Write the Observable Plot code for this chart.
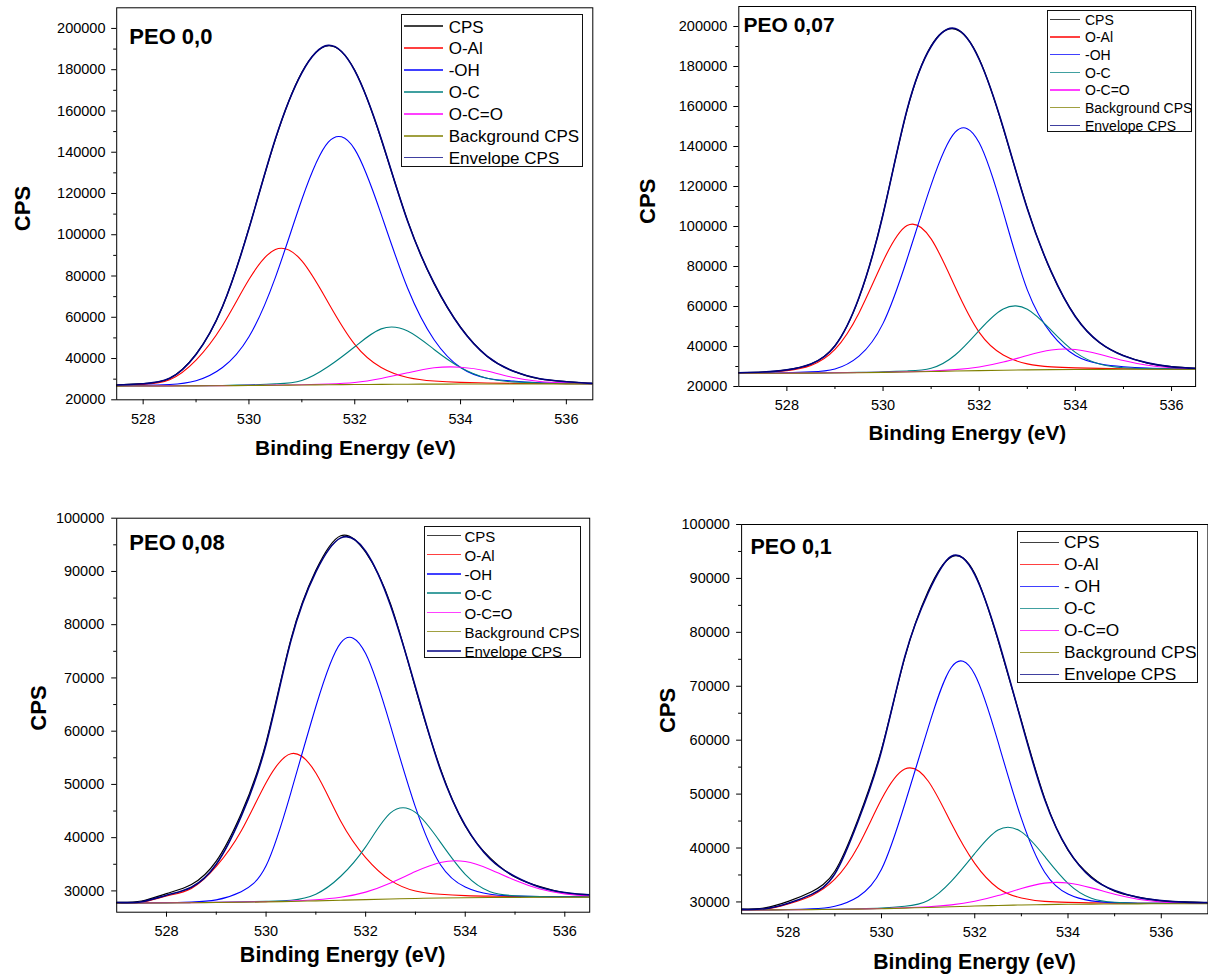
<!DOCTYPE html>
<html>
<head>
<meta charset="utf-8">
<script src="https://cdn.jsdelivr.net/npm/d3@7"></script>
<script src="https://cdn.jsdelivr.net/npm/@observablehq/plot@0.6"></script>
<style>
  html, body { margin: 0; padding: 0; background: #fff; }
  #root { position: relative; width: 1208px; height: 976px; overflow: hidden; background: #fff;
          font-family: "Liberation Sans", Arial, Helvetica, sans-serif; }
  .panel { position: absolute; }
  .legend { position: absolute; border: 1px solid #111; background: #fff; box-sizing: border-box; }
  .legend .ln { position: absolute; height: 1.5px; }
  .legend .tx { position: absolute; line-height: 1; white-space: nowrap; color: #000; transform: translateY(-50%); }
</style>
</head>
<body>
<div id="root"></div>
<script>
// ---------------- DATA ----------------
const energyEV = [527.0, 527.5, 528.0, 528.5, 529.0, 529.5, 530.0, 530.5, 531.0, 531.5, 532.0,
                  532.5, 533.0, 533.5, 534.0, 534.5, 535.0, 535.5, 536.0, 536.5, 537.0];

const seriesLabels   = ["CPS", "O-Al", "-OH", "O-C", "O-C=O", "Background CPS", "Envelope CPS"];
const seriesLabelsP4 = ["CPS", "O-Al", "- OH", "O-C", "O-C=O", "Background CPS", "Envelope CPS"];
const seriesColors   = ["#000000", "#ff0000", "#0000ff", "#008080", "#ff00ff", "#808000", "#000080"];
const panelTitles    = ["PEO 0,0", "PEO 0,07", "PEO 0,08", "PEO 0,1"];
const axisLabelX = "Binding Energy (eV)";
const axisLabelY = "CPS";

const xMajorTicks = [528, 530, 532, 534, 536];
const xMinorTicks = [529, 531, 533, 535];
const yMajorTicksHigh = [20000, 40000, 60000, 80000, 100000, 120000, 140000, 160000, 180000, 200000];
const yMinorTicksHigh = [30000, 50000, 70000, 90000, 110000, 130000, 150000, 170000, 190000];
const yMajorTicksLow = [30000, 40000, 50000, 60000, 70000, 80000, 90000, 100000];
const yMinorTicksLow = [35000, 45000, 55000, 65000, 75000, 85000, 95000];

// Panel 1 : PEO 0,0
const p1Cps = [26950,27150,27850,30350,42100,65100,103200,146300,178700,191600,179700,146300,106700,76300,55200,41100,33900,30100,28800,28000,27900];
const p1OAl = [26720,26950,27480,29720,39270,56040,78280,92890,87360,67080,46890,35680,30850,29100,28440,28170,27940,27880,27840,27770,27760];
const p1OH  = [26750,26900,26980,27420,29270,35640,50530,79340,117060,144880,141390,109880,74050,49100,35640,30470,29090,28300,28060,27800,27770];
const p1OC  = [26640,26700,26740,26790,26860,26960,27230,27740,29360,36110,45690,54380,53350,44400,35640,30470,28690,28150,27860,27760,27750];
const p1OCO = [26620,26673,26705,26751,26808,26886,26990,27130,27310,27670,28390,30350,33070,35500,35810,33970,30790,28900,28200,27850,27790];
const p1Bg  = [26600,26650,26680,26720,26770,26840,26930,27040,27160,27280,27390,27480,27550,27600,27640,27670,27690,27700,27710,27720,27720];
const p1Env = [26900,27200,27800,30400,42000,65200,103000,146500,178500,191800,179500,146500,106500,76500,55000,41200,33800,30200,28750,27950,27850];

// Panel 2 : PEO 0,07
const p2Cps = [26950,27200,28350,31200,40500,64300,106300,158200,190300,198700,183800,149100,109200,77100,55100,42000,35500,31700,29900,29050,28950];
const p2OAl = [26750,27020,27950,30550,38550,56800,82630,100460,93800,69700,47060,35750,31300,29820,29300,29050,28910,28830,28790,28760,28750];
const p2OH  = [26700,26770,26900,27300,28780,35200,51560,83770,120800,147140,141860,107150,68300,46420,35500,31350,29890,29260,28980,28840,28800];
const p2OC  = [26660,26690,26730,26800,26900,27060,27310,27770,29100,35740,48060,58750,58660,48060,37060,31250,29390,28960,28830,28770,28750];
const p2OCO = [26630,26655,26690,26750,26840,26975,27160,27395,27750,28420,29760,32220,35520,38240,38510,36140,33000,30620,29380,28930,28780];
const p2Bg  = [26600,26620,26650,26700,26780,26900,27060,27270,27500,27740,27960,28150,28300,28420,28500,28550,28590,28610,28630,28640,28650];
const p2Env = [26900,27250,28300,31300,40300,64500,106000,158500,190000,199000,183500,149400,108900,77300,54900,42100,35400,31800,29800,29100,28900];

// Panel 3 : PEO 0,08
const p3Cps = [27850,28100,29500,31200,35600,44500,57900,77300,90200,96700,93600,83900,68100,53000,42200,36200,32600,30800,29650,29300,29050];
const p3OAl = [27760,27870,29040,30470,34610,41260,50330,55770,52150,43100,36270,31980,29980,29360,29120,29010,28960,28930,28910,28900,28900];
const p3OH  = [27730,27760,27790,27920,28310,29860,34730,48520,64630,76600,74570,60980,45730,34960,30720,29360,29040,28930,28900,28890,28890];
const p3OC  = [27720,27745,27770,27810,27860,27930,28050,28250,29380,32750,38270,44640,44740,39160,33120,29860,29090,28930,28890,28880,28880];
const p3OCO = [27720,27745,27770,27805,27850,27905,27990,28100,28340,28800,29770,31480,33630,35340,35520,34040,32000,30360,29450,29070,28940];
const p3Bg  = [27700,27720,27740,27770,27810,27860,27930,28020,28130,28250,28370,28480,28580,28660,28720,28760,28790,28810,28820,28830,28840];
const p3Env = [27830,27960,29200,30700,35000,44000,57500,77000,89900,96300,93800,83600,68300,52800,42300,36000,32700,30700,29700,29250,29090];

// Panel 4 : PEO 0,1
const p4Cps = [28650,28900,30100,31900,35700,45400,58300,75300,87600,94000,90900,78500,63600,49200,39600,34700,32000,30900,30200,30000,29850];
const p4OAl = [28560,28670,29640,31170,34210,40340,49030,54650,52430,44530,37140,32550,30740,30110,29910,29820,29780,29760,29740,29730,29730];
const p4OH  = [28530,28560,28600,28720,29210,30970,36050,48160,62270,73520,72190,59670,45490,35510,31460,30200,29880,29770,29740,29730,29730];
const p4OC  = [28520,28545,28570,28605,28655,28730,28850,29190,30280,33860,38980,43360,43000,38440,33460,30700,29930,29770,29730,29720,29720];
const p4OCO = [28510,28532,28555,28588,28632,28698,28785,28910,29110,29460,30120,31190,32490,33490,33510,32610,31420,30510,30000,29800,29740];
const p4Bg  = [28500,28520,28540,28570,28610,28670,28750,28860,28980,29110,29240,29350,29440,29510,29560,29600,29630,29650,29660,29670,29680];
const p4Env = [28620,28750,29750,31400,35200,45000,58000,75500,87300,94100,90700,78700,63400,49000,39700,34500,32100,30850,30250,29970,29880];

// ---------------- LAYOUT ----------------
const FONT = '"Liberation Sans", Arial, Helvetica, sans-serif';

const panels = [
  { title: panelTitles[0], labels: seriesLabels, series: [p1Cps, p1OAl, p1OH, p1OC, p1OCO, p1Bg, p1Env],
    xDomain: [527.5, 536.5], yDomain: [20000, 210000], yMajor: yMajorTicksHigh, yMinor: yMinorTicksHigh,
    left: 0, top: 0, width: 600, height: 470, mL: 116.2, mR: 7.7, mT: 7.3, mB: 70.7,
    xPad: 8.8, yPad: 6.2,
    titleDx: 12.6, titleDy: 36, titleSize: 22,
    xlabDx: 0.6, xlabDy: 48.7, xlabSize: 21, ylabDx: -94.2, ylabDy: 4.7, ylabSize: 22,
    legend: { left: 400.7, top: 14, width: 182, height: 152.7, row0: 11, step: 21.95, l0: 2.3, l1: 41.3, tx: 47, fs: 17 } },
  { title: panelTitles[1], labels: seriesLabels, series: [p2Cps, p2OAl, p2OH, p2OC, p2OCO, p2Bg, p2Env],
    xDomain: [527, 536.5], yDomain: [20000, 210000], yMajor: yMajorTicksHigh, yMinor: yMinorTicksHigh,
    left: 600, top: 0, width: 608, height: 470, mL: 138.3, mR: 12.9, mT: 6, mB: 84,
    xPad: 8.1, yPad: 6.6,
    titleDx: 4.7, titleDy: 25.7, titleSize: 21,
    xlabDx: 0.2, xlabDy: 47.3, xlabSize: 20.7, ylabDx: -90.6, ylabDy: 4.8, ylabSize: 22,
    legend: { left: 1047, top: 10, width: 144.6, height: 122.3, row0: 8.3, step: 17.67, l0: 2, l1: 32, tx: 37, fs: 14 } },
  { title: panelTitles[2], labels: seriesLabels, series: [p3Cps, p3OAl, p3OH, p3OC, p3OCO, p3Bg, p3Env],
    xDomain: [527, 536.5], yDomain: [26000, 100000], yMajor: yMajorTicksLow, yMinor: yMinorTicksLow,
    left: 0, top: 480, width: 600, height: 496, mL: 116.2, mR: 10.8, mT: 37.7, mB: 64.3,
    xPad: 8.8, yPad: 7.4,
    titleDx: 12.6, titleDy: 31.3, titleSize: 22,
    xlabDx: -10.6, xlabDy: 43.3, xlabSize: 21.5, ylabDx: -77.7, ylabDy: -7.2, ylabSize: 22,
    legend: { left: 423.8, top: 525.7, width: 157, height: 132.6, row0: 8.6, step: 19.28, l0: 2.2, l1: 35.8, tx: 39.7, fs: 15 } },
  { title: panelTitles[3], labels: seriesLabelsP4, series: [p4Cps, p4OAl, p4OH, p4OC, p4OCO, p4Bg, p4Env],
    xDomain: [527, 537], yDomain: [27800, 100000], yMajor: yMajorTicksLow, yMinor: yMinorTicksLow,
    left: 600, top: 480, width: 608, height: 496, mL: 141.1, mR: 0.6, mT: 44, mB: 62.7,
    xPad: 8.2, yPad: 6.7,
    titleDx: 8.9, titleDy: 29.3, titleSize: 21.5,
    xlabDx: -0.2, xlabDy: 48.4, xlabSize: 21.2, ylabDx: -73.8, ylabDy: -8.7, ylabSize: 22,
    legend: { left: 1017, top: 531, width: 181.2, height: 152.3, row0: 10.7, step: 21.93, l0: 2, l1: 41, tx: 46, fs: 17.3 } }
];

const root = document.getElementById("root");

panels.forEach(cfg => {
  const marks = [];
  cfg.series.forEach((vals, i) => {
    const data = energyEV.map((E, j) => ({ E, v: vals[j] }));
    marks.push(Plot.line(data, {
      x: "E", y: "v", stroke: seriesColors[i],
      strokeWidth: i === 6 ? 1.6 : (i === 0 ? 1.2 : 1.1),
      curve: "natural", clip: true
    }));
  });
  marks.push(Plot.frame({ stroke: "#000", strokeWidth: 1 }));
  marks.push(Plot.axisX(xMajorTicks, { tickSize: 5, tickPadding: cfg.xPad, tickFormat: d => String(d), fontSize: 14.5, label: null }));
  marks.push(Plot.axisX(xMinorTicks, { tickSize: 3, tickFormat: () => "", label: null }));
  marks.push(Plot.axisY(cfg.yMajor, { tickSize: 5, tickPadding: cfg.yPad, tickFormat: d => String(d), fontSize: 14.5, label: null }));
  marks.push(Plot.axisY(cfg.yMinor, { tickSize: 3, tickFormat: () => "", label: null }));
  marks.push(Plot.text([cfg.title], {
    text: d => d, frameAnchor: "top-left", dx: cfg.titleDx, dy: cfg.titleDy,
    textAnchor: "start", lineAnchor: "bottom", fontSize: cfg.titleSize, fontWeight: "bold", fill: "#000"
  }));
  marks.push(Plot.text([axisLabelX], {
    text: d => d, frameAnchor: "bottom", dx: cfg.xlabDx, dy: cfg.xlabDy,
    textAnchor: "middle", lineAnchor: "middle", fontSize: cfg.xlabSize, fontWeight: "bold", fill: "#000"
  }));
  marks.push(Plot.text([axisLabelY], {
    text: d => d, frameAnchor: "left", dx: cfg.ylabDx, dy: cfg.ylabDy, rotate: -90,
    textAnchor: "middle", lineAnchor: "middle", fontSize: cfg.ylabSize, fontWeight: "bold", fill: "#000"
  }));

  const svg = Plot.plot({
    width: cfg.width, height: cfg.height,
    marginLeft: cfg.mL, marginRight: cfg.mR, marginTop: cfg.mT, marginBottom: cfg.mB,
    x: { domain: cfg.xDomain, label: null },
    y: { domain: cfg.yDomain, label: null },
    style: { fontFamily: FONT, fontSize: "14.5px", color: "#000", background: "transparent", overflow: "visible" },
    marks
  });
  const holder = document.createElement("div");
  holder.className = "panel";
  holder.style.left = cfg.left + "px";
  holder.style.top = cfg.top + "px";
  holder.appendChild(svg);
  root.appendChild(holder);

  // legend (HTML, real text)
  const lg = cfg.legend;
  const box = document.createElement("div");
  box.className = "legend";
  box.style.left = lg.left + "px";
  box.style.top = lg.top + "px";
  box.style.width = lg.width + "px";
  box.style.height = lg.height + "px";
  cfg.labels.forEach((lab, i) => {
    const cy = lg.row0 + i * lg.step;
    const ln = document.createElement("div");
    ln.className = "ln";
    ln.style.left = lg.l0 + "px";
    ln.style.width = (lg.l1 - lg.l0) + "px";
    ln.style.top = (cy - 0.75) + "px";
    ln.style.background = seriesColors[i];
    ln.style.opacity = "0.75";
    box.appendChild(ln);
    const tx = document.createElement("div");
    tx.className = "tx";
    tx.style.left = lg.tx + "px";
    tx.style.top = (cy + 0.5) + "px";
    tx.style.fontSize = lg.fs + "px";
    tx.textContent = lab;
    box.appendChild(tx);
  });
  root.appendChild(box);
});
</script>
</body>
</html>
